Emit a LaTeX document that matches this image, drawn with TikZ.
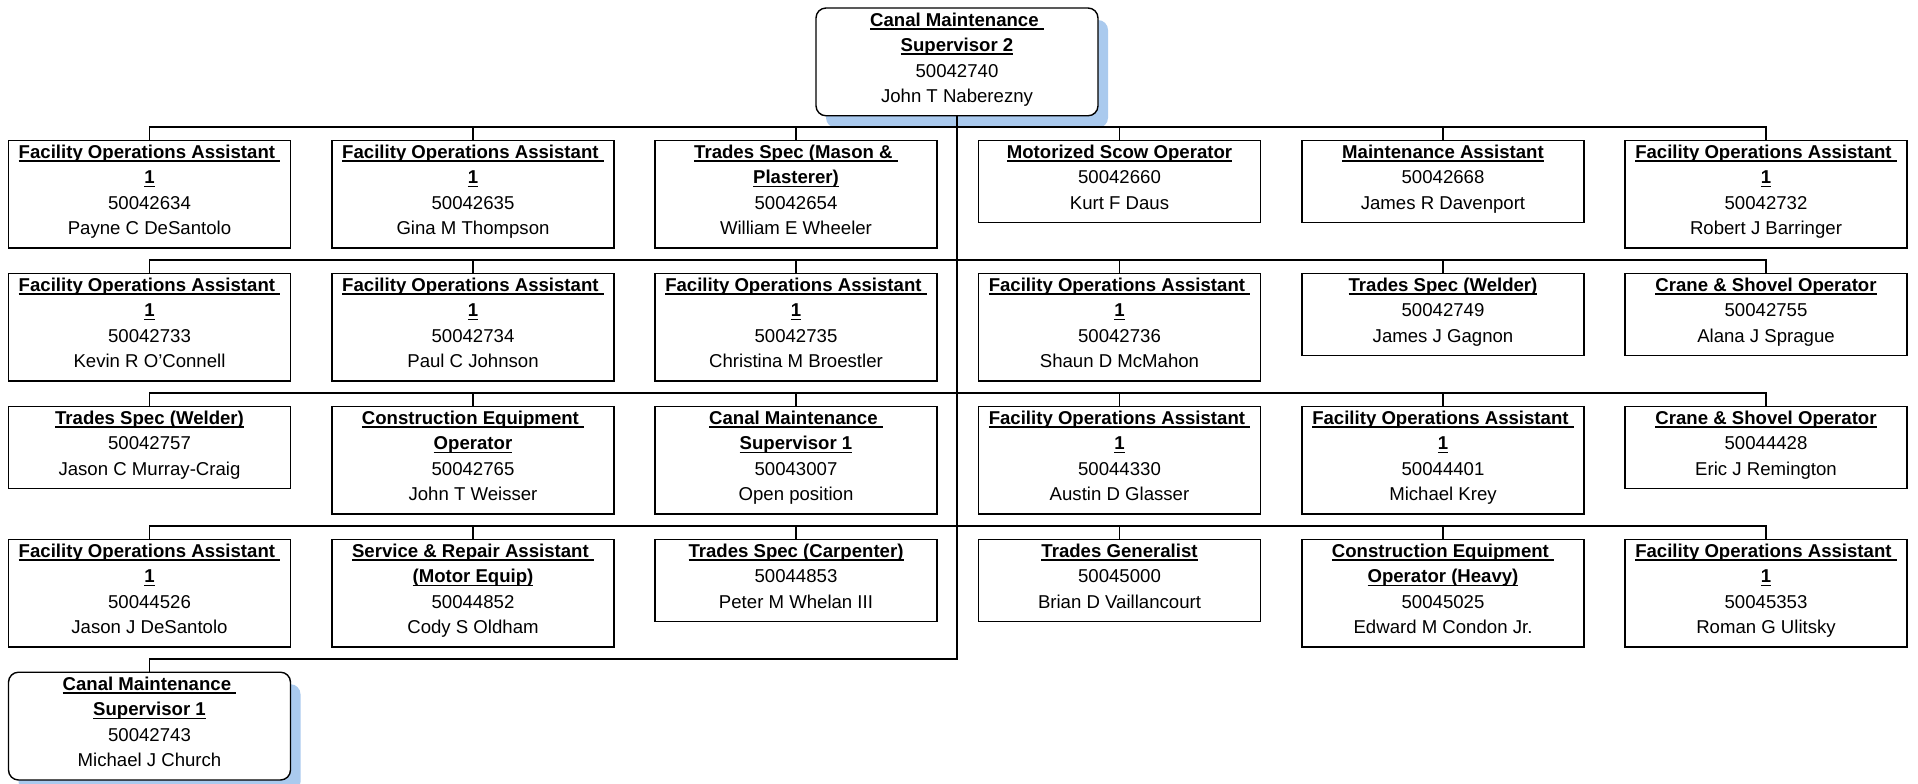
\documentclass[tikz,border=0pt]{standalone}
\usepackage{fontspec}
\setmainfont{Liberation Sans}
\usetikzlibrary{shadows}

\definecolor{shadowblue}{RGB}{170,202,238}

% underlined bold title line, rule at a fixed depth
\newcommand{\ttl}[1]{\setbox0\hbox{\bfseries #1}\rlap{\rule[-1.6pt]{\wd0}{0.75pt}}\box0}
\newcommand{\topstrut}{\rule{0pt}{6.1pt}}
\newcommand{\botstrut}{\rule[-4.2pt]{0pt}{4.2pt}}
\newcommand{\job}[3]{\topstrut#1\\#2\\#3\botstrut}
\newcommand{\foa}{\ttl{Facility Operations Assistant\ }\\\ttl{1}}

\begin{document}
\begin{tikzpicture}[x=0.5pt,y=-0.5pt,
    posbox/.style={draw, line width=0.7pt, fill=white, minimum width=141pt, inner xsep=0pt, inner ysep=2.5pt,
                align=center, anchor=north, font=\fontsize{9.3}{12.65}\selectfont},
    bossbox/.style={posbox, rounded corners=5pt,
                drop shadow={shadow xshift=5pt, shadow yshift=-6pt, fill=shadowblue, opacity=1}},
    link/.style={line width=0.7pt}
  ]
  \useasboundingbox (0,0) rectangle (1918,783);

  \node[bossbox] (top) at (957,7.3) {\job{\ttl{Canal Maintenance\ }\\\ttl{Supervisor 2}}{50042740}{John T Naberezny}};

  % row 1
  \node[posbox] (b11) at (149.5,139.5) {\job{\foa}{50042634}{Payne C DeSantolo}};
  \node[posbox] (b12) at (473,139.5) {\job{\foa}{50042635}{Gina M Thompson}};
  \node[posbox] (b13) at (796,139.5) {\job{\ttl{Trades Spec (Mason \&\ }\\\ttl{Plasterer)}}{50042654}{William E Wheeler}};
  \node[posbox] (b14) at (1119.5,139.5) {\job{\ttl{Motorized Scow Operator}}{50042660}{Kurt F Daus}};
  \node[posbox] (b15) at (1443,139.5) {\job{\ttl{Maintenance Assistant}}{50042668}{James R Davenport}};
  \node[posbox] (b16) at (1766,139.5) {\job{\foa}{50042732}{Robert J Barringer}};

  % row 2
  \node[posbox] (b21) at (149.5,272.5) {\job{\foa}{50042733}{Kevin R O'Connell}};
  \node[posbox] (b22) at (473,272.5) {\job{\foa}{50042734}{Paul C Johnson}};
  \node[posbox] (b23) at (796,272.5) {\job{\foa}{50042735}{Christina M Broestler}};
  \node[posbox] (b24) at (1119.5,272.5) {\job{\foa}{50042736}{Shaun D McMahon}};
  \node[posbox] (b25) at (1443,272.5) {\job{\ttl{Trades Spec (Welder)}}{50042749}{James J Gagnon}};
  \node[posbox] (b26) at (1766,272.5) {\job{\ttl{Crane \& Shovel Operator}}{50042755}{Alana J Sprague}};

  % row 3
  \node[posbox] (b31) at (149.5,405.5) {\job{\ttl{Trades Spec (Welder)}}{50042757}{Jason C Murray-Craig}};
  \node[posbox] (b32) at (473,405.5) {\job{\ttl{Construction Equipment\ }\\\ttl{Operator}}{50042765}{John T Weisser}};
  \node[posbox] (b33) at (796,405.5) {\job{\ttl{Canal Maintenance\ }\\\ttl{Supervisor 1}}{50043007}{Open position}};
  \node[posbox] (b34) at (1119.5,405.5) {\job{\foa}{50044330}{Austin D Glasser}};
  \node[posbox] (b35) at (1443,405.5) {\job{\foa}{50044401}{Michael Krey}};
  \node[posbox] (b36) at (1766,405.5) {\job{\ttl{Crane \& Shovel Operator}}{50044428}{Eric J Remington}};

  % row 4
  \node[posbox] (b41) at (149.5,538.5) {\job{\foa}{50044526}{Jason J DeSantolo}};
  \node[posbox] (b42) at (473,538.5) {\job{\ttl{Service \& Repair Assistant\ }\\\ttl{(Motor Equip)}}{50044852}{Cody S Oldham}};
  \node[posbox] (b43) at (796,538.5) {\job{\ttl{Trades Spec (Carpenter)}}{50044853}{Peter M Whelan III}};
  \node[posbox] (b44) at (1119.5,538.5) {\job{\ttl{Trades Generalist}}{50045000}{Brian D Vaillancourt}};
  \node[posbox] (b45) at (1443,538.5) {\job{\ttl{Construction Equipment\ }\\\ttl{Operator (Heavy)}}{50045025}{Edward M Condon Jr.}};
  \node[posbox] (b46) at (1766,538.5) {\job{\foa}{50045353}{Roman G Ulitsky}};

  % row 5
  \node[bossbox] (cms) at (149.5,671.5) {\job{\ttl{Canal Maintenance\ }\\\ttl{Supervisor 1}}{50042743}{Michael J Church}};

  % connectors
  \draw[link] (cms.north) -- ++(0,-12.5) -| (top.south);
  \foreach \r in {1,...,4}{
    \draw[link] (b\r1.north) -- ++(0,-12.5) -| (b\r6.north);
    \foreach \c in {2,...,5} \draw[link] (b\r\c.north) -- ++(0,-12.5);
  }
\end{tikzpicture}
\end{document}
